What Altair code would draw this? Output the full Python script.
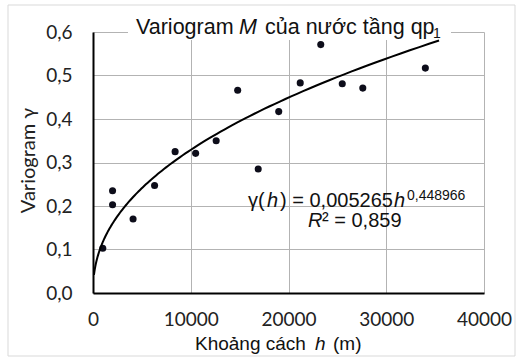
import altair as alt
import pandas as pd

# ---- data ----
distance_m = [1000, 2000, 2000, 4100, 6300, 8400, 10500, 12600, 14800, 16900,
              19000, 21200, 23300, 25500, 27600, 34000]
variogram = [0.103, 0.235, 0.203, 0.170, 0.247, 0.325, 0.321, 0.350, 0.466, 0.285,
             0.417, 0.483, 0.571, 0.481, 0.471, 0.517]
x_ticks = [0, 10000, 20000, 30000, 40000]
y_ticks = [0.0, 0.1, 0.2, 0.3, 0.4, 0.5, 0.6]
# power trend line as printed on the chart: gamma(h) = a * h^b
trend_a = 0.005265
trend_b = 0.448966
trend_extent = [100, 35400]

title_main = "Variogram "
title_italic = "M"
title_rest = "của nước tầng qp"
title_sub = "1"
eq_parts = ["γ(", "h", ") = 0,005265", "h", "0,448966"]
r2_parts = ["R", "² = 0,859"]
x_title_parts = ["Khoảng cách", "h", "(m)"]
y_title = "Variogram γ"

df = pd.DataFrame({"h": distance_m, "g": variogram})
one = pd.DataFrame({"a": [0]})

W, H = 391, 261
L, T = 93, 32
SANS = "Liberation Sans"
TICKF = "Lato"


def px(v):
    return alt.value(v - L)


def py(v):
    return alt.value(v - T)


def label(text, x, y, size=20, style="normal", font=SANS, align="left"):
    return alt.Chart(one).mark_text(
        text=text, align=align, baseline="alphabetic", font=font,
        fontSize=size, fontStyle=style, color="#111111"
    ).encode(x=px(x), y=py(y))


x_enc = alt.X(
    "h:Q",
    scale=alt.Scale(domain=[0, 40000], nice=False, zero=True),
    axis=alt.Axis(values=x_ticks, format="d", title=None, grid=True,
                  gridColor="#b3b3b3", gridWidth=1, tickSize=0,
                  labelPadding=17, labelFont=TICKF, labelFontSize=19,
                  labelColor="#222222", domainColor="#000000", domainWidth=2,
                  labelFlush=False),
)
y_enc = alt.Y(
    "g:Q",
    scale=alt.Scale(domain=[0, 0.6], nice=False, zero=True),
    axis=alt.Axis(values=y_ticks, title=y_title,
                  labelExpr="replace(format(datum.value, '.1f'), '.', ',')",
                  grid=True, gridColor="#b3b3b3", gridWidth=1, tickSize=0,
                  labelPadding=21, labelFont=TICKF, labelFontSize=19,
                  labelColor="#222222", domainColor="#000000", domainWidth=2,
                  titleFont=TICKF, titleFontSize=20, titleFontWeight="normal",
                  titleColor="#222222", titleAngle=270, titleX=-65, titleY=128,
                  titleAlign="center", titleBaseline="middle"),
)

border = alt.Chart(one).mark_rect(fill="transparent", stroke="#d9d9d9", strokeWidth=1).encode(
    x=px(8), x2=px(515), y=py(5), y2=py(356)
)

title_bg = alt.Chart(one).mark_rect(color="white").encode(
    x=px(128), x2=px(451), y=py(18), y2=py(40)
)

points = alt.Chart(df).mark_circle(size=50, color="#0d0d1a", opacity=1).encode(
    x=x_enc, y=y_enc
)

lo, hi = trend_extent
trend = alt.Chart(alt.sequence(0, 1.0001, 0.005, as_="t")).transform_calculate(
    h=f"pow(10, log({lo})/LN10 + datum.t * (log({hi}) - log({lo}))/LN10)"
).transform_calculate(
    g=f"{trend_a} * pow(datum.h, {trend_b})"
).mark_line(color="#000000", strokeWidth=2).encode(
    x=alt.X("h:Q"), y=alt.Y("g:Q"), order="t:Q"
)

texts = [
    label(title_main, 136, 33.5, size=21.5),
    label(title_italic, 239, 33.5, size=21.5, style="italic"),
    label(title_rest, 265, 33.5, size=21.5),
    label(title_sub, 433, 38, size=14),
    label(eq_parts[0], 248, 207),
    label(eq_parts[1], 267, 207, style="italic"),
    label(eq_parts[2], 280, 207),
    label(eq_parts[3], 394, 207, style="italic"),
    label(eq_parts[4], 407, 200, size=14),
    label(r2_parts[0], 308, 227, style="italic"),
    label(r2_parts[1], 322, 227),
    label(x_title_parts[0], 195, 350, size=19),
    label(x_title_parts[1], 315, 350, size=19, style="italic"),
    label(x_title_parts[2], 333, 350, size=19),
]

chart = alt.layer(border, title_bg, points, trend, *texts).properties(
    width=W, height=H,
    autosize=alt.AutoSizeParams(type="none"),
    padding={"left": L, "top": T, "right": 516 - L - W, "bottom": 358 - T - H},
    background="white",
).configure_view(strokeWidth=0)

chart.save("out.html", embed_options={"renderer": "svg", "actions": False})
